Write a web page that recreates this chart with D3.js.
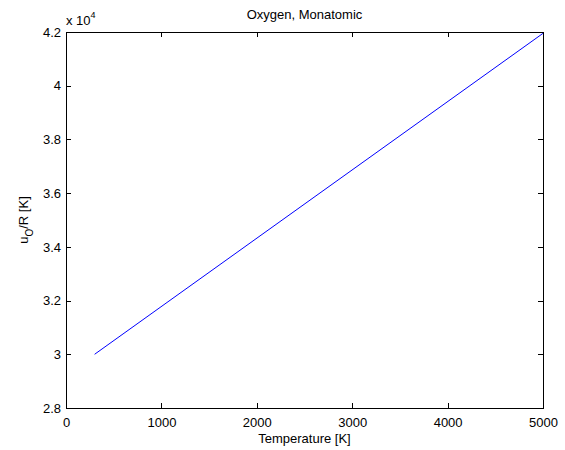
<!doctype html>
<html>
<head>
<meta charset="utf-8">
<script src="https://cdn.jsdelivr.net/npm/d3@7"></script>
<style>
  body { margin: 0; background: #fff; }
  text { font-family: "Liberation Sans", Arial, sans-serif; font-size: 13px; fill: #000; }
</style>
</head>
<body>
<svg width="565" height="450"></svg>
<script>
// data
var temperature = [300, 5000];
var energy = [30000, 41950];
var xTicks = [0, 1000, 2000, 3000, 4000, 5000];
var yTicks = [28000, 30000, 32000, 34000, 36000, 38000, 40000, 42000];

// plot box (note: "top" is reserved on window, so use other names)
var boxL = 66, boxT = 32, boxR = 543, boxB = 408;
var fs = 13;
var svg = d3.select("svg");

var x = d3.scaleLinear().domain([0, 5000]).range([boxL, boxR]);
var y = d3.scaleLinear().domain([28000, 42000]).range([boxB, boxT]);

svg.append("rect").attr("width", 565).attr("height", 450).attr("fill", "#fff");

// axes box
svg.append("rect")
    .attr("x", boxL).attr("y", boxT)
    .attr("width", boxR - boxL).attr("height", boxB - boxT)
    .attr("fill", "none").attr("stroke", "#000").attr("stroke-width", 1)
    .attr("shape-rendering", "crispEdges");

function fmtY(v) { return String(+(v / 1e4).toFixed(1)); }

// bottom axis
var xb = svg.append("g").attr("transform", "translate(0," + boxB + ")")
    .call(d3.axisBottom(x).tickValues(xTicks).tickSizeInner(-5).tickSizeOuter(0).tickPadding(10).tickFormat(d3.format("d")));
// top ticks
var xt = svg.append("g").attr("transform", "translate(0," + boxT + ")")
    .call(d3.axisTop(x).tickValues(xTicks).tickSizeInner(-5).tickSizeOuter(0).tickFormat(""));
// left axis
var yl = svg.append("g").attr("transform", "translate(" + boxL + ",0)")
    .call(d3.axisLeft(y).tickValues(yTicks).tickSizeInner(-5).tickSizeOuter(0).tickPadding(5).tickFormat(fmtY));
// right ticks
var yr = svg.append("g").attr("transform", "translate(" + boxR + ",0)")
    .call(d3.axisRight(y).tickValues(yTicks).tickSizeInner(-5).tickSizeOuter(0).tickFormat(""));

[xb, xt, yl, yr].forEach(function(g) {
    g.select(".domain").remove();
    g.selectAll("line").attr("stroke", "#000").attr("shape-rendering", "crispEdges");
    g.selectAll("text").attr("font-family", "Liberation Sans, Arial, sans-serif").attr("font-size", fs).attr("fill", "#000");
});

// exponent label
var ex = svg.append("text").attr("x", boxL).attr("y", 25);
ex.append("tspan").text("x 10");
ex.append("tspan").attr("dy", -7).attr("font-size", 9).text("4");

// line
var line = d3.line()
    .x(function(d, i) { return x(temperature[i]); })
    .y(function(d) { return y(d); });
svg.append("path")
    .attr("d", line(energy))
    .attr("fill", "none")
    .attr("stroke", "#0000ff")
    .attr("stroke-width", 1);

// title and labels
svg.append("text").attr("x", (boxL + boxR) / 2).attr("y", 19)
    .attr("text-anchor", "middle").text("Oxygen, Monatomic");
svg.append("text").attr("x", (boxL + boxR) / 2).attr("y", 443)
    .attr("text-anchor", "middle").text("Temperature [K]");

var ylab = svg.append("text")
    .attr("transform", "translate(28," + ((boxT + boxB) / 2) + ") rotate(-90)")
    .attr("text-anchor", "middle");
ylab.append("tspan").text("u");
ylab.append("tspan").attr("dy", 5).attr("font-size", 10).text("O");
ylab.append("tspan").attr("dy", -5).text("/R [K]");
</script>
</body>
</html>
